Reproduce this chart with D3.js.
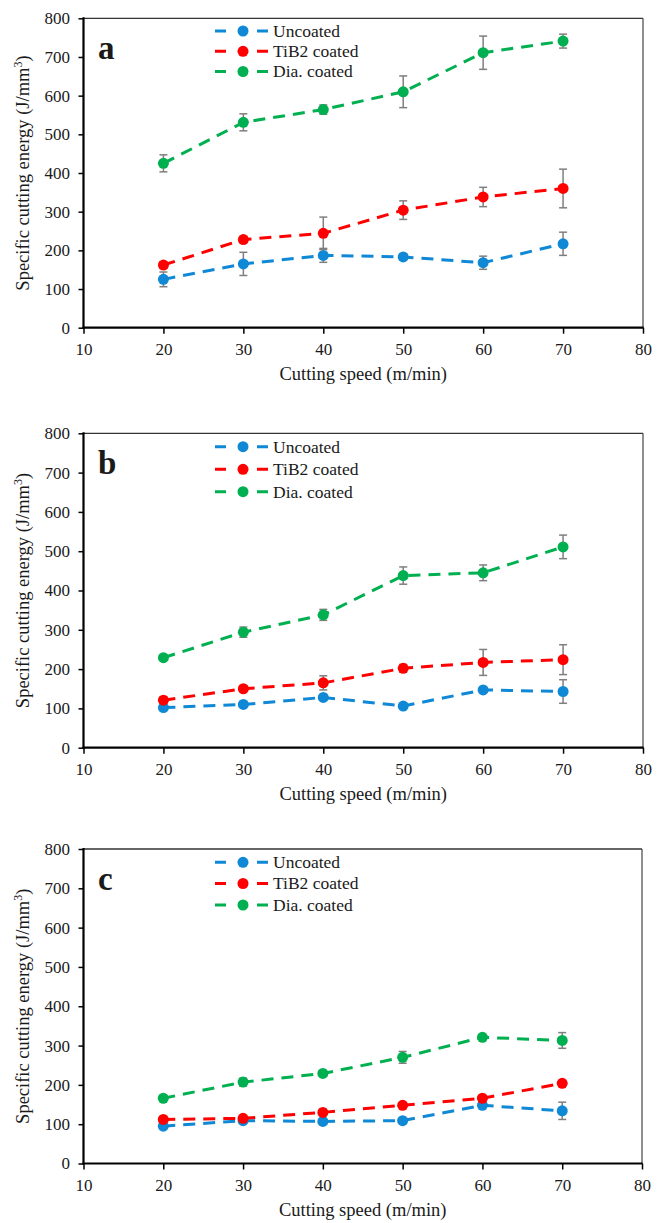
<!DOCTYPE html>
<html lang="en">
  <head>
    <meta charset="utf-8" />
    <title>Specific cutting energy</title>
    <style>
      body { margin: 0; background: #fff; }
      svg text { font-family: "Liberation Serif", "Times New Roman", serif; fill: #1a1a1a; }
      .axis path.domain { display: none; }
      .axis line { stroke: #000; stroke-width: 1.5px; }
      .axis text { font-size: 17px; }
    </style>
  </head>
  <body>
    <div id="vis"></div>
    <script src="https://cdn.jsdelivr.net/npm/d3@7"></script>
    <script>
      const speeds = [20, 30, 40, 50, 60, 70];
      const seriesNames = ["Uncoated", "TiB2 coated", "Dia. coated"];
      const seriesColors = ["#0f88d6", "#ff0000", "#00b050"];
      const xTicks = [10, 20, 30, 40, 50, 60, 70, 80];
      const yTicks = [0, 100, 200, 300, 400, 500, 600, 700, 800];
      const panelLabels = ["a", "b", "c"];

      // panel a
      const aUncoated = [125, 165, 187, 183, 168, 217];
      const aUncoatedErr = [19, 30, 18, 8, 17, 30];
      const aTiB2 = [162, 228, 244, 304, 338, 360];
      const aTiB2Err = [8, 8, 42, 24, 25, 50];
      const aDia = [425, 531, 564, 610, 711, 741];
      const aDiaErr = [22, 22, 12, 41, 43, 18];

      // panel b
      const bUncoated = [102, 110, 128, 106, 147, 143];
      const bUncoatedErr = [4, 5, 6, 4, 5, 30];
      const bTiB2 = [121, 150, 165, 202, 217, 224];
      const bTiB2Err = [8, 6, 18, 10, 33, 38];
      const bDia = [229, 294, 338, 438, 445, 511];
      const bDiaErr = [5, 13, 14, 22, 20, 30];

      // panel c
      const cUncoated = [95, 109, 107, 109, 148, 134];
      const cUncoatedErr = [5, 4, 5, 5, 5, 22];
      const cTiB2 = [112, 115, 130, 148, 166, 204];
      const cTiB2Err = [5, 5, 8, 5, 5, 5];
      const cDia = [166, 207, 229, 270, 321, 313];
      const cDiaErr = [5, 10, 7, 15, 5, 20];

      const panels = [
        { top: 18.3, bottom: 327.7, right: 643, legendY: [31, 51.3, 71.5],
          series: [[aUncoated, aUncoatedErr], [aTiB2, aTiB2Err], [aDia, aDiaErr]] },
        { top: 433.3, bottom: 747.7, right: 643, legendY: [446.7, 469.3, 491.7],
          series: [[bUncoated, bUncoatedErr], [bTiB2, bTiB2Err], [bDia, bDiaErr]] },
        { top: 849, bottom: 1163.5, right: 642, legendY: [862.3, 883.5, 905],
          series: [[cUncoated, cUncoatedErr], [cTiB2, cTiB2Err], [cDia, cDiaErr]] }
      ];

      const svg = d3.select("#vis").append("svg").attr("width", 667).attr("height", 1223);
      const left = 83.5;

      panels.forEach((p, pi) => {
        const g = svg.append("g");
        const x = d3.scaleLinear().domain([10, 80]).range([left, p.right]);
        const y = d3.scaleLinear().domain([0, 800]).range([p.bottom, p.top]);

        // plot frame
        g.append("line").attr("x1", left).attr("x2", p.right).attr("y1", p.top).attr("y2", p.top)
          .attr("stroke", "#333").attr("stroke-width", 1.3);
        g.append("line").attr("x1", p.right).attr("x2", p.right).attr("y1", p.top).attr("y2", p.bottom)
          .attr("stroke", "#444").attr("stroke-width", 1.2);

        g.append("g").attr("class", "axis").attr("transform", `translate(${left},0)`)
          .call(d3.axisLeft(y).tickValues(yTicks).tickSize(5).tickSizeOuter(0).tickPadding(8.5));
        g.append("g").attr("class", "axis").attr("transform", `translate(0,${p.bottom})`)
          .call(d3.axisBottom(x).tickValues(xTicks).tickSize(6).tickSizeOuter(0).tickPadding(9.4));

        g.append("line").attr("x1", left).attr("x2", left).attr("y1", p.top - 1).attr("y2", p.bottom + 1)
          .attr("stroke", "#000").attr("stroke-width", 2.2);
        g.append("line").attr("x1", left - 1).attr("x2", p.right + 0.6).attr("y1", p.bottom).attr("y2", p.bottom)
          .attr("stroke", "#000").attr("stroke-width", 2.2);

        // axis titles
        g.append("text").attr("x", (left + p.right) / 2).attr("y", p.bottom + 52.5)
          .attr("text-anchor", "middle").style("font-size", "18.5px").text("Cutting speed (m/min)");
        const yt = g.append("text")
          .attr("transform", `translate(29,${(p.top + p.bottom) / 2}) rotate(-90)`)
          .attr("text-anchor", "middle").style("font-size", "18.5px");
        yt.append("tspan").text("Specific  cutting energy (J/mm");
        yt.append("tspan").attr("dy", -7).style("font-size", "12px").text("3");
        yt.append("tspan").attr("dy", 7).text(")");

        g.append("text").attr("x", 98).attr("y", p.top + 40.5)
          .style("font-size", "33px").style("font-weight", "bold").text(panelLabels[pi]);

        const line = d3.line().x((d, i) => x(speeds[i])).y(d => y(d));

        p.series.forEach(([vals, errs], si) => {
          const col = seriesColors[si];
          const sg = g.append("g");
          sg.append("path").datum(vals).attr("d", line).attr("fill", "none")
            .attr("stroke", col).attr("stroke-width", 3).attr("stroke-dasharray", "12,8");
          const eb = sg.selectAll("g.err").data(vals).enter().append("g")
            .attr("stroke", "#7f7f7f").attr("stroke-width", 1.5);
          eb.append("line").attr("x1", (d, i) => x(speeds[i])).attr("x2", (d, i) => x(speeds[i]))
            .attr("y1", (d, i) => y(d + errs[i])).attr("y2", (d, i) => y(d - errs[i]));
          eb.append("line").attr("x1", (d, i) => x(speeds[i]) - 4).attr("x2", (d, i) => x(speeds[i]) + 4)
            .attr("y1", (d, i) => y(d + errs[i])).attr("y2", (d, i) => y(d + errs[i]));
          eb.append("line").attr("x1", (d, i) => x(speeds[i]) - 4).attr("x2", (d, i) => x(speeds[i]) + 4)
            .attr("y1", (d, i) => y(d - errs[i])).attr("y2", (d, i) => y(d - errs[i]));
          sg.selectAll("circle").data(vals).enter().append("circle")
            .attr("cx", (d, i) => x(speeds[i])).attr("cy", d => y(d)).attr("r", 5.5).attr("fill", col);

          // legend entry
          const ly = p.legendY[si];
          g.append("line").attr("x1", 215).attr("x2", 268).attr("y1", ly).attr("y2", ly)
            .attr("stroke", col).attr("stroke-width", 3).attr("stroke-dasharray", "11,31,11");
          g.append("circle").attr("cx", 243).attr("cy", ly).attr("r", 5.5).attr("fill", col);
          g.append("text").attr("x", 273).attr("y", ly).attr("dy", "0.34em")
            .style("font-size", "17.5px").text(seriesNames[si]);
        });
      });
    </script>
  </body>
</html>
